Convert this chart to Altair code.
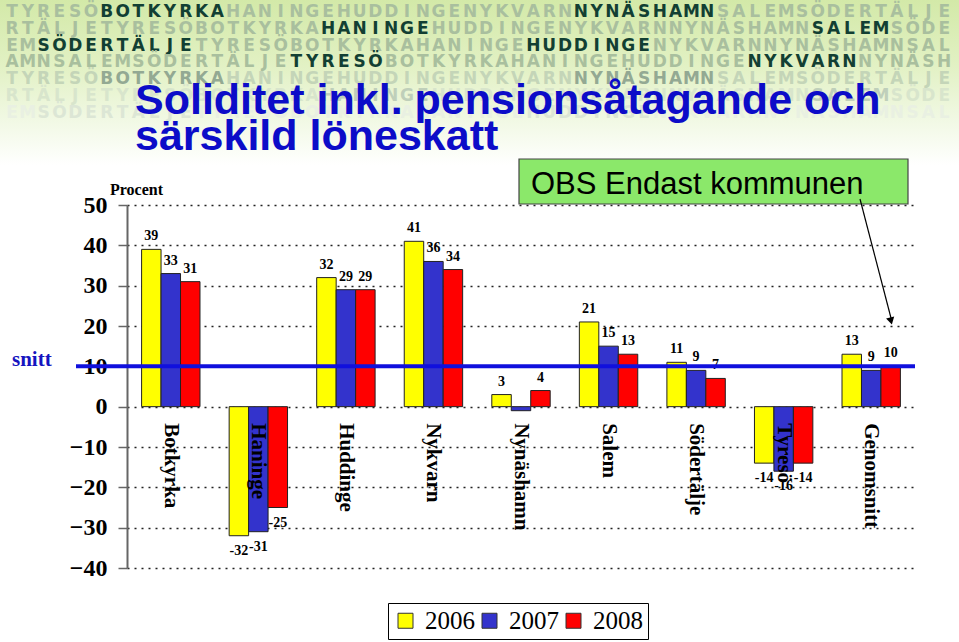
import altair as alt
import pandas as pd

# ---------------- data ----------------
categories = ["Botkyrka", "Haninge", "Huddinge", "Nykvarn", "Nynäshamn",
              "Salem", "Södertälje", "Tyresö", "Genomsnitt"]
years = ["2006", "2007", "2008"]
v2006 = [39, -32, 32, 41, 3, 21, 11, -14, 13]
v2007 = [33, -31, 29, 36, -1, 15, 9, -16, 9]
v2008 = [31, -25, 29, 34, 4, 13, 7, -14, 10]
hidden_labels = [("Nynäshamn", "2007")]
y_ticks = [-40, -30, -20, -10, 0, 10, 20, 30, 40, 50]
snitt_value = 10
bar_colors = ["#ffff00", "#3333cc", "#ff0000"]

title_lines = ["Soliditet inkl. pensionsåtagande och", "särskild löneskatt"]
note_text = "OBS Endast kommunen"

# banner rows: (word, highlighted)
banner_rows = [
    [("TYRESÖ", 0), ("BOTKYRKA", 1), ("HANINGE", 0), ("HUDDINGE", 0), ("NYKVARN", 0), ("NYNÄSHAMN", 1), ("SALEM", 0), ("SÖDERTÄLJE", 0)],
    [("RTÄLJE", 0), ("TYRESÖ", 0), ("BOTKYRKA", 0), ("HANINGE", 1), ("HUDDINGE", 0), ("NYKVARN", 0), ("NYNÄSHAMN", 0), ("SALEM", 1), ("SÖDE", 0)],
    [("EM", 0), ("SÖDERTÄLJE", 1), ("TYRESÖ", 0), ("BOTKYRKA", 0), ("HANINGE", 0), ("HUDDINGE", 1), ("NYKVARN", 0), ("NYNÄSHAMN", 0), ("SAL", 0)],
    [("AMN", 0), ("SALEM", 0), ("SÖDERTÄLJE", 0), ("TYRESÖ", 1), ("BOTKYRKA", 0), ("HANINGE", 0), ("HUDDINGE", 0), ("NYKVARN", 1), ("NYNÄSH", 0)],
    [("TYRESÖ", 0), ("BOTKYRKA", 1), ("HANINGE", 0), ("HUDDINGE", 0), ("NYKVARN", 0), ("NYNÄSHAMN", 1), ("SALEM", 0), ("SÖDERTÄLJE", 0)],
    [("RTÄLJE", 0), ("TYRESÖ", 0), ("BOTKYRKA", 0), ("HANINGE", 1), ("HUDDINGE", 0), ("NYKVARN", 0), ("NYNÄSHAMN", 0), ("SALEM", 1), ("SÖDE", 0)],
    [("EM", 0), ("SÖDERTÄLJE", 1), ("TYRESÖ", 0), ("BOTKYRKA", 0), ("HANINGE", 0), ("HUDDINGE", 1), ("NYKVARN", 0), ("NYNÄSHAMN", 0), ("SAL", 0)],
]
banner_colors = [
    ("#a9bf9e", "#123f33"),
    ("#a9bf9e", "#123f33"),
    ("#a9bf9e", "#123f33"),
    ("#a9bf9e", "#123f33"),
    ("#c4d5b8", "#93a993"),
    ("#d8e5cc", "#bfcfba"),
    ("#e9f0e2", "#dce6d5"),
]

# ---------------- layout ----------------
PL, PT, PR, PB = 127, 205, 44, 74
W, H = 959 - PL - PR, 642 - PT - PB


def rx(px):
    return px - PL


def ry(py):
    return py - PT


rows = []
for vals, yr in zip([v2006, v2007, v2008], years):
    for c, v in zip(categories, vals):
        lab = "" if (c, yr) in hidden_labels else str(v)
        rows.append({"cat": c, "year": yr, "value": v, "label": lab})
df = pd.DataFrame(rows)

brows = []
for r, segs in enumerate(banner_rows):
    text = "".join(w for w, _ in segs)
    flags = []
    for w, h in segs:
        flags += [h] * len(w)
    for i, ch in enumerate(text):
        brows.append({"ch": ch, "px": rx(12 + i * 15.8), "py": ry(12 + r * 16.8),
                      "col": banner_colors[r][flags[i]]})
bdf = pd.DataFrame(brows)

one = pd.DataFrame({"a": [0]})

# ---------------- background banner ----------------
grad = alt.Gradient(
    gradient="linear",
    stops=[alt.GradientStop(color="#d3e9a8", offset=0),
           alt.GradientStop(color="#e2f1c4", offset=0.4),
           alt.GradientStop(color="#f2f9e6", offset=0.75),
           alt.GradientStop(color="#ffffff", offset=1)],
    x1=0, x2=0, y1=0, y2=1)
banner_bg = alt.Chart(one).mark_rect(color=grad).encode(
    x=alt.value(rx(0)), x2=alt.value(rx(959)), y=alt.value(ry(0)), y2=alt.value(ry(165)))

banner_txt = alt.Chart(bdf).mark_text(
    font="DejaVu Sans", fontWeight="bold", fontSize=17, align="center", baseline="middle"
).encode(
    x=alt.X("px:Q", scale=None, axis=None),
    y=alt.Y("py:Q", scale=None, axis=None),
    text="ch:N",
    color=alt.Color("col:N", scale=None, legend=None),
)

title1 = alt.Chart(one).mark_text(
    font="Liberation Sans", fontWeight="bold", fontSize=43, color="#0c0cc8",
    align="left", baseline="alphabetic").encode(
    x=alt.value(rx(135)), y=alt.value(ry(114)), text=alt.value(title_lines[0]))
title2 = alt.Chart(one).mark_text(
    font="Liberation Sans", fontWeight="bold", fontSize=43, color="#0c0cc8",
    align="left", baseline="alphabetic").encode(
    x=alt.value(rx(135)), y=alt.value(ry(150)), text=alt.value(title_lines[1]))

# ---------------- bars ----------------
x_enc = alt.X("cat:N", sort=categories, title=None,
              scale=alt.Scale(paddingInner=0.333, paddingOuter=0.1667),
              axis=alt.Axis(orient="bottom", offset=-(H * 40 / 90), domain=False, ticks=False,
                            grid=False, labelAngle=90, labelAlign="left", labelBaseline="middle",
                            labelFont="Liberation Serif", labelFontWeight="bold",
                            labelFontSize=21, labelColor="black", labelPadding=16, zindex=1))
xo_enc = alt.XOffset("year:N", sort=years, scale=alt.Scale(paddingInner=0, paddingOuter=0))
y_scale = alt.Scale(domain=[-40, 50], nice=False, zero=False)

bars = alt.Chart(df).mark_bar(stroke="#222222", strokeWidth=1).encode(
    x=x_enc, xOffset=xo_enc,
    y=alt.Y("value:Q", scale=y_scale, title=None,
            axis=alt.Axis(values=y_ticks, domainColor="#666666", domainWidth=2,
                          tickColor="#666666", tickSize=9, tickWidth=1.5,
                          labelFont="Liberation Serif", labelFontWeight="bold",
                          labelFontSize=24, labelColor="black", labelPadding=11,
                          grid=True, gridColor="#222222", gridDash=[2, 5], gridWidth=1.3)),
    y2=alt.Y2(datum=0),
    color=alt.Color("year:N", sort=years, scale=alt.Scale(domain=years, range=bar_colors),
                    legend=alt.Legend(orient="none", legendX=rx(388), legendY=ry(603),
                                      direction="horizontal", title=None, symbolType="square",
                                      symbolSize=225, symbolStrokeColor="#333333",
                                      symbolStrokeWidth=1, labelFont="Liberation Serif",
                                      labelFontSize=25, labelColor="black", labelOffset=7,
                                      columnPadding=2, padding=5, strokeColor="black",
                                      fillColor="white")),
)

lab_pos = alt.Chart(df).transform_filter("datum.value >= 0").mark_text(
    font="Liberation Serif", fontWeight="bold", fontSize=14, baseline="alphabetic", dy=-9
).encode(x=x_enc, xOffset=xo_enc, y=alt.Y("value:Q", scale=y_scale), text="label:N")
lab_neg = alt.Chart(df).transform_filter("datum.value < 0").mark_text(
    font="Liberation Serif", fontWeight="bold", fontSize=14, baseline="top", dy=8
).encode(x=x_enc, xOffset=xo_enc, y=alt.Y("value:Q", scale=y_scale), text="label:N")

snitt_rule = alt.Chart(one).mark_rule(color="#1010dd", strokeWidth=4).encode(
    y=alt.Y(datum=snitt_value, scale=y_scale), x=alt.value(rx(76)), x2=alt.value(W))
snitt_txt = alt.Chart(one).mark_text(
    font="Liberation Serif", fontWeight="bold", fontSize=21, color="#1515c0",
    align="left", baseline="middle", dy=-6).encode(
    y=alt.Y(datum=snitt_value, scale=y_scale), x=alt.value(rx(12)), text=alt.value("snitt"))

main = alt.layer(bars, lab_pos, lab_neg, snitt_rule, snitt_txt)

# ---------------- annotations ----------------
procent = alt.Chart(one).mark_text(
    font="Liberation Serif", fontWeight="bold", fontSize=16, color="black",
    align="left", baseline="middle").encode(
    x=alt.value(rx(110)), y=alt.value(ry(190)), text=alt.value("Procent"))

obs_box = alt.Chart(one).mark_rect(fill="#8be86a", stroke="#444444", strokeWidth=1.2).encode(
    x=alt.value(rx(519)), x2=alt.value(rx(908)), y=alt.value(ry(159)), y2=alt.value(ry(204)))
obs_txt = alt.Chart(one).mark_text(
    font="Liberation Sans", fontSize=31, color="black", align="left", baseline="alphabetic").encode(
    x=alt.value(rx(531)), y=alt.value(ry(194)), text=alt.value(note_text))

arrow_line = alt.Chart(one).mark_rule(color="black", strokeWidth=1.2).encode(
    x=alt.value(rx(860)), y=alt.value(ry(199)), x2=alt.value(rx(891)), y2=alt.value(ry(318)))
arrow_head = alt.Chart(one).mark_point(shape="triangle-down", filled=True, color="black",
                                       size=70, angle=346, opacity=1).encode(
    x=alt.value(rx(891)), y=alt.value(ry(321)))

chart = alt.layer(
    banner_bg, banner_txt, title1, title2, main, procent, obs_box, obs_txt, arrow_line, arrow_head
).resolve_scale(x="independent", y="independent", color="independent").properties(
    width=W, height=H,
    autosize=alt.AutoSizeParams(type="none"),
    padding={"left": PL, "top": PT, "right": PR, "bottom": PB},
    background="white",
).configure_view(stroke=None)

chart.save("out.html", embed_options={"renderer": "svg", "actions": False})
